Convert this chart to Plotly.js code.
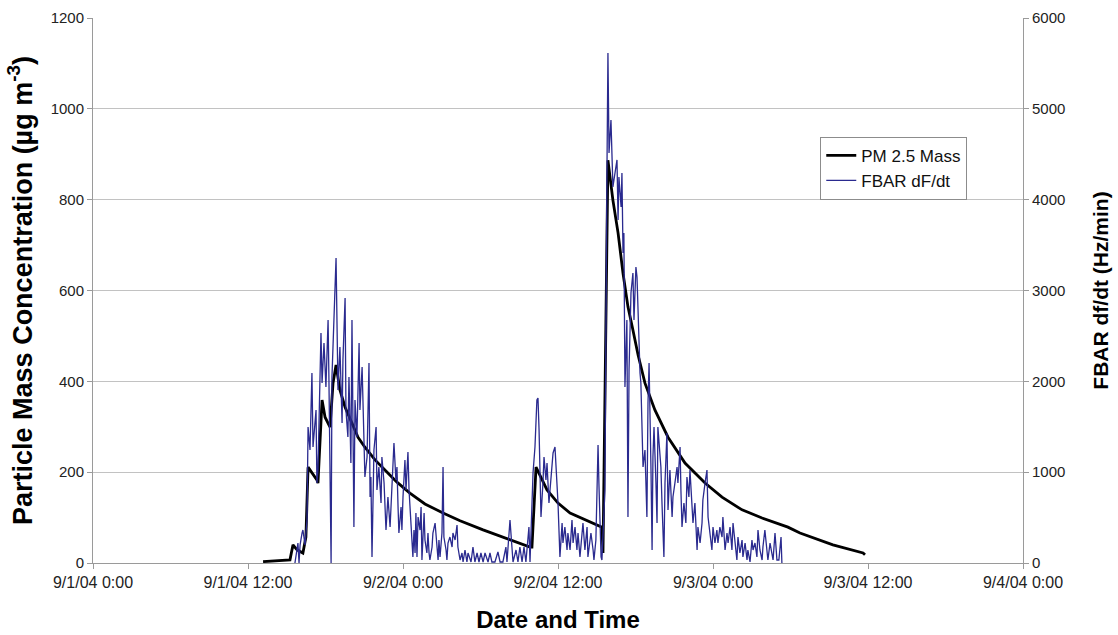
<!DOCTYPE html>
<html>
<head>
<meta charset="utf-8">
<script src="https://cdn.plot.ly/plotly-3.0.1.min.js"></script>
<style>html,body{margin:0;padding:0;background:#fff;}#chart{width:1118px;height:635px;}</style>
</head>
<body>
<div id="chart"></div>
<script>
// Time in minutes after 9/1/04 0:00
const pmMinutes = [790,892,915,929,948,975,989,999,1017,1040,1045,1064,1078,1101,1115,1129,1147,1171,1203,1231,1263,1310,1356,1412,1472,1542,1626,1705,1812,1914,2030,2039,2058,2109,2160,2216,2285,2364,2369,2392,2415,2439,2462,2485,2508,2532,2564,2610,2671,2750,2843,2922,3015,3108,3228,3284,3437,3577,3586];
// PM 2.5 mass (µg m-3)
const pmMass = [3,7,7,40,29,22,57,211,198,183,176,359,321,299,396,436,381,343,308,277,255,227,205,178,154,130,110,93,73,55,35,35,211,161,132,110,95,79,22,887,799,727,638,564,513,458,396,337,277,220,176,145,117,99,79,66,40,22,18];

const fbarMinutes = [938,952,957,962,971,975,985,994,999,1008,1017,1022,1036,1040,1045,1059,1064,1073,1082,1087,1092,1096,1106,1110,1119,1124,1129,1133,1138,1147,1157,1161,1171,1175,1184,1189,1198,1203,1212,1217,1226,1236,1240,1250,1259,1263,1273,1282,1287,1291,1296,1305,1315,1319,1328,1338,1342,1352,1361,1370,1380,1389,1394,1398,1407,1412,1417,1421,1431,1435,1440,1449,1454,1459,1463,1468,1472,1482,1486,1491,1496,1500,1505,1510,1519,1524,1528,1538,1542,1551,1556,1561,1565,1575,1579,1589,1593,1603,1607,1612,1621,1626,1630,1640,1644,1649,1658,1668,1672,1682,1691,1695,1705,1714,1719,1728,1737,1742,1756,1765,1774,1784,1793,1802,1812,1821,1835,1844,1853,1867,1881,1891,1904,1918,1923,1932,1937,1946,1951,1965,1974,1983,1993,2002,2011,2025,2030,2044,2053,2062,2067,2072,2081,2090,2095,2104,2109,2118,2132,2137,2146,2155,2160,2169,2179,2183,2192,2202,2206,2216,2225,2230,2239,2248,2253,2262,2271,2276,2285,2295,2299,2313,2323,2327,2336,2346,2350,2360,2364,2378,2387,2392,2397,2406,2415,2425,2434,2439,2443,2453,2457,2462,2466,2471,2480,2485,2490,2499,2508,2513,2522,2527,2532,2536,2541,2545,2550,2555,2564,2573,2578,2583,2592,2597,2601,2606,2615,2620,2624,2634,2638,2643,2652,2657,2666,2671,2680,2690,2694,2703,2713,2717,2727,2731,2736,2745,2754,2759,2768,2773,2782,2787,2796,2806,2810,2820,2829,2833,2843,2852,2857,2866,2875,2880,2889,2898,2903,2912,2922,2926,2936,2945,2950,2959,2968,2973,2982,2991,2996,3005,3015,3019,3029,3038,3042,3052,3061,3066,3075,3084,3089,3098,3108,3112,3121,3131,3135,3145,3154,3159,3168,3177,3186,3196,3200];
// FBAR dF/dt (Hz/min)
const fbarRate = [0,220,0,200,330,363,200,473,1497,1244,2092,1277,1685,880,1024,2532,1982,2422,1938,2378,2675,2015,0,2048,2708,3149,3358,2708,1905,2378,1541,2235,2918,1685,1387,2048,1101,2675,396,1795,1387,2422,1685,2158,1387,947,1167,2202,727,947,66,1244,1497,804,1057,661,1167,880,363,727,396,804,1057,1321,914,1057,617,330,617,363,727,1134,804,1167,1222,804,617,286,66,363,110,550,66,506,363,617,33,550,253,110,330,110,33,176,330,440,286,33,253,66,330,1057,286,143,33,220,286,176,330,253,418,176,33,110,11,143,11,110,11,176,11,110,11,110,11,110,11,110,11,11,121,11,11,176,11,286,473,176,11,143,11,176,11,176,11,396,11,991,1277,1795,1817,1464,506,880,1167,914,1101,661,1057,1211,1277,880,661,66,440,220,396,143,330,143,473,220,396,143,330,66,286,440,143,396,66,330,143,33,253,1300,880,66,33,800,4200,5615,4514,4877,4140,4327,4437,3776,4250,3920,4294,3413,3633,1938,2675,506,2125,2973,3193,2675,3259,3149,2708,2345,2092,1982,1354,1057,1244,506,1762,2202,1024,143,1167,1497,880,440,1497,1244,1057,661,66,880,1431,584,1024,506,727,880,1057,880,1277,804,396,661,440,947,727,1024,584,440,661,143,396,220,440,694,880,1024,506,330,143,396,220,363,220,396,286,506,143,330,220,396,143,440,220,33,286,110,253,66,220,33,143,11,253,143,220,66,363,143,33,176,363,143,33,220,110,33,330,33,33,286,0];

const tickHours = [0,12,24,36,48,60,72];
const tickLabels = ['9/1/04 0:00','9/1/04 12:00','9/2/04 0:00','9/2/04 12:00','9/3/04 0:00','9/3/04 12:00','9/4/04 0:00'];

function pad(n){return (n<10?'0':'')+n;}
function toDate(min){
  const day = Math.floor(min/1440)+1;
  const r = min - (day-1)*1440;
  return '2004-09-' + pad(day) + ' ' + pad(Math.floor(r/60)) + ':' + pad(r%60);
}

const FONT = 'Liberation Sans, Arial, sans-serif';

const traces = [
  {
    x: fbarMinutes.map(toDate), y: fbarRate, yaxis: 'y2',
    type: 'scatter', mode: 'lines', name: 'FBAR dF/dt', legendrank: 2,
    line: {color: '#2a2a8f', width: 1.3}
  },
  {
    x: pmMinutes.map(toDate), y: pmMass, yaxis: 'y',
    type: 'scatter', mode: 'lines', name: 'PM 2.5 Mass', legendrank: 1,
    line: {color: '#000000', width: 2.8}
  }
];

const layout = {
  width: 1118, height: 635,
  margin: {l: 93, r: 95, t: 18, b: 72, pad: 0},
  paper_bgcolor: '#ffffff', plot_bgcolor: '#ffffff',
  font: {family: FONT, color: '#222'},
  showlegend: true,
  legend: {
    x: 0.782, y: 0.782, xanchor: 'left', yanchor: 'top',
    bgcolor: '#ffffff', bordercolor: '#8c8c8c', borderwidth: 1,
    font: {family: FONT, size: 17, color: '#111'}
  },
  xaxis: {
    type: 'date',
    range: [toDate(0), toDate(72*60)],
    tickvals: tickHours.map(h => toDate(h*60)),
    ticktext: tickLabels,
    showgrid: false, zeroline: false,
    showline: true, linecolor: '#9a9a9a', linewidth: 1,
    ticks: 'outside', ticklen: 5, tickcolor: '#9a9a9a',
    tickfont: {family: FONT, size: 16, color: '#222'},
    title: {text: '<b>Date and Time</b>', font: {family: FONT, size: 24, color: '#000'}, standoff: 20}
  },
  yaxis: {
    range: [0, 1200], dtick: 200,
    showgrid: true, gridcolor: '#c2c2c2', gridwidth: 1,
    zeroline: false,
    showline: true, linecolor: '#9a9a9a', linewidth: 1,
    ticks: 'outside', ticklen: 5, tickcolor: '#9a9a9a',
    tickfont: {family: FONT, size: 15, color: '#222'},
    title: {text: '<b>Particle Mass Concentration (µg m<sup>-3</sup>)</b>', font: {family: FONT, size: 27, color: '#000'}, standoff: 10}
  },
  yaxis2: {
    overlaying: 'y', side: 'right',
    range: [0, 6000], dtick: 1000,
    showgrid: false, zeroline: false,
    showline: true, linecolor: '#9a9a9a', linewidth: 1,
    ticks: 'outside', ticklen: 5, tickcolor: '#9a9a9a',
    tickfont: {family: FONT, size: 15, color: '#222'},
    title: {text: '<b>FBAR df/dt (Hz/min)</b>', font: {family: FONT, size: 21, color: '#000'}, standoff: 28}
  }
};

Plotly.newPlot('chart', traces, layout, {displayModeBar: false, staticPlot: true});
</script>
</body>
</html>
